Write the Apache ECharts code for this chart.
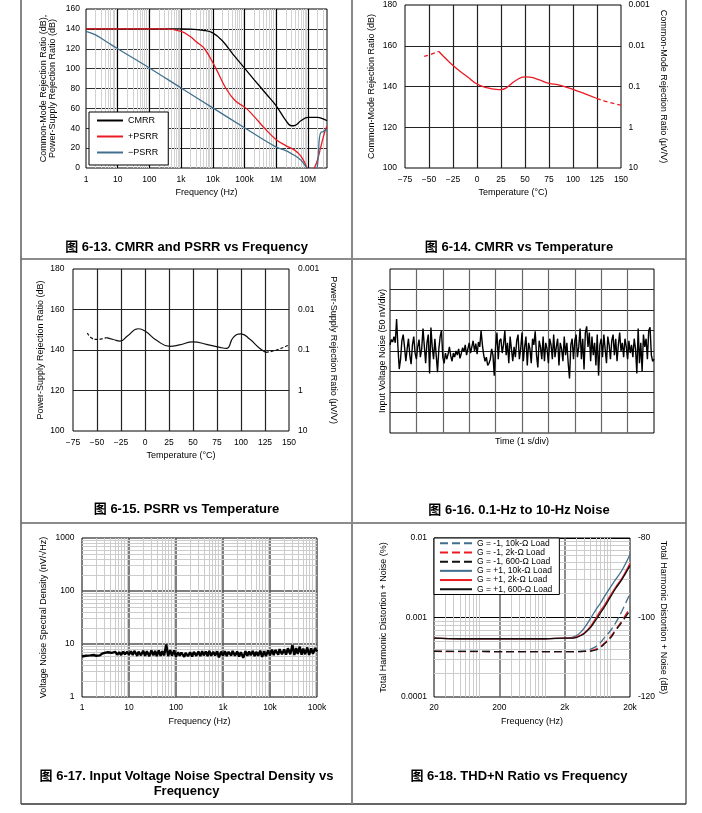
<!DOCTYPE html>
<html><head><meta charset="utf-8">
<script src="https://cdn.jsdelivr.net/npm/echarts@6/dist/echarts.min.js"></script>
<style>html,body{margin:0;padding:0;background:#fff}#c{width:702px;height:813px}</style>
</head><body><div id="c"></div>
<script>
// ---------------- DATA ----------------
// Fig 6-13 CMRR / PSRR vs frequency
const cmrrFreq = [1, 100, 1000, 2000, 5000, 1e4, 2e4, 5e4, 1e5, 2e5, 5e5, 1e6, 2e6, 3e6, 4e6, 6e6, 1e7, 2e7, 3e7, 4e7];
const cmrrDb   = [140, 140, 140, 139.8, 138.5, 136, 128, 112, 100.5, 89, 74, 62.5, 48, 42.5, 43, 47.5, 51, 51, 49.5, 47.5];
const psrrPFreq = [1, 300, 1000, 2000, 3000, 5500, 12600, 26000, 50000, 113000, 200000, 430000, 1e6, 2e6, 4e6, 6e6, 8e6, 1e7, 1.2e7, 1.6e7, 2e7, 2.5e7, 3e7, 3.6e7, 4e7];
const psrrPDb   = [140, 140, 137.5, 132, 127, 120, 100, 80, 68, 60, 52, 40, 28.5, 22.5, 17.5, 12, 5, -2, -6, 0, 8, 20, 30, 39, 42];
const psrrNFreq = [1, 2, 5, 10, 100, 1000, 1e4, 1e5, 1e6, 2e6, 3e6, 5e6, 7e6, 1e7, 1.3e7, 1.8e7, 2.1e7, 2.3e7, 2.6e7, 3e7, 3.5e7, 4e7];
const psrrNDb   = [137.5, 134, 126, 120, 100.7, 80.5, 60.5, 40.5, 21, 17.5, 14.5, 10, 5.5, -2, -8, -4, 10, 30, 36, 36.5, 38, 38];
const freqTickLabels = {1:'1', 10:'10', 100:'100', 1000:'1k', 10000:'10k', 100000:'100k', 1000000:'1M', 10000000:'10M'};

// Fig 6-14 CMRR vs temperature
const cmrrTDash1T = [-55, -48, -40];
const cmrrTDash1V = [154.8, 155.8, 157.3];
const cmrrTSolidT = [-40, -30, -20, -10, 0, 10, 20, 25, 30, 40, 50, 55, 65, 75, 85, 100, 112, 125];
const cmrrTSolidV = [157.3, 152.5, 148.3, 144.8, 141.2, 139.5, 138.6, 138.5, 139.2, 142.8, 144.7, 144.6, 143.2, 141.5, 140.8, 138.6, 136.5, 134.1];
const cmrrTDash2T = [125, 137, 150];
const cmrrTDash2V = [134.1, 132.3, 130.9];

// Fig 6-15 PSRR vs temperature
const psrrTDash1T = [-60, -56, -50, -45, -40];
const psrrTDash1V = [148.4, 146, 145.2, 145.5, 146.1];
const psrrTSolidT = [-40, -33, -26, -18, -7, 0, 12, 26, 36, 50, 64, 78, 85, 92, 100, 109, 119, 126];
const psrrTSolidV = [146.1, 145.2, 144.4, 147, 150.5, 149.4, 144.8, 141.8, 142.5, 144, 142.8, 141.3, 140.8, 146.2, 148, 145.4, 141, 138.8];
const psrrTDash2T = [126, 137, 150];
const psrrTDash2V = [138.8, 140, 142.5];

// Fig 6-16 0.1-Hz to 10-Hz noise (nV), 20 samples per second
const noiseNv = [
 15, 28, 22, 35, 20, 78, 10, -44, -20, 25,
 40, 10, -25, 5, 30, -10, -32, 15, 35, -5,
 -20, 10, 28, -15, 5, 55, 12, -30, 20, 40,
 -55, 57, 10, -20, 30, -10, -52, 5, 35, 50,
 -15, -30, -5, -20, -8, 10, -12, -25, -5, -15,
 0, -10, 5, -18, -6, 8, -2, 15, -10, 5,
 20, -5, 10, 25, 0, 18, -8, 22, 10, 50,
 15, -10, -25, -15, -35, -30, -20, 5, -10, -60,
 10, 45, -20, 25, 30, -5, 15, 50, -10, 20,
 -30, 35, 5, -25, 10, -15, 25, 40, -20, 5,
 45, -25, 10, 35, -35, 20, 5, -30, 30, 15,
 48, -10, -40, 25, 10, -20, 35, -25, 20, 5,
 -30, 30, 15, -20, 40, -15, 10, 30, -35, 20,
 5, -25, 35, -10, 20, -30, -67, 15, 30, -20,
 25, 40, -15, 10, 55, -20, 30, -45, 45, 60,
 10, 45, -25, 35, -10, 20, -35, 40, -60, 15,
 30, -15, 40, 5, -30, 35, 15, -20, 25, 40,
 -10, 30, -25, 15, 45, 0, 20, -15, 30, 10,
 -20, 25, -5, 15, -15, 30, 5, -55, 55, -30,
 20, -50, 40, 10, 30, -20, 50, 58, -10, -25,
 -20
];

// Fig 6-17 voltage noise spectral density
const vnFreq = [1,1.1,1.2,1.3,1.5,1.6,1.8,2,2.2,2.4,2.7,3,3.3,3.6,3.9,4.3,4.7,5.1,5.6,6.2,6.8,7.5,8.2,9.1,
 10,11,12,13,15,16,18,20,22,24,27,30,33,36,39,43,47,51,56,62,68,75,82,91,
 100,110,120,130,150,160,180,200,220,240,270,300,330,360,390,430,470,510,560,620,680,750,820,910,
 1000,1100,1200,1300,1500,1600,1800,2000,2200,2400,2700,3000,3300,3600,3900,4300,4700,5100,5600,6200,6800,7500,8200,9100,
 10000,11000,12000,13000,15000,16000,18000,20000,22000,24000,27000,30000,33000,36000,39000,43000,47000,51000,56000,62000,68000,75000,82000,91000,100000];
const vnDensity = [5.8,5.9,6.0,6.0,6.1,6.1,6.2,6.0,6.4,6.1,6.6,6.8,7.1,7.0,7.3,6.8,6.5,7.1,6.3,7.0,6.2,7.2,6.4,7.1,
 6.3,7.3,6.2,7.4,6.0,7.2,6.1,7.5,6.0,7.3,5.9,7.6,6.1,7.4,5.9,7.6,6.0,7.3,6.1,9.8,5.9,7.7,6.0,7.6,
 5.8,7.0,6.0,6.9,5.7,6.8,5.9,7.0,5.8,7.1,6.0,7.2,5.9,7.3,6.1,7.2,5.9,7.4,6.0,7.1,6.1,7.3,5.6,7.2,
 6.0,7.3,5.9,7.1,6.1,7.4,6.0,7.2,5.8,7.0,5.5,7.3,6.0,7.2,6.1,7.4,5.9,7.1,6.0,7.5,5.7,7.3,5.9,7.6,
 6.1,7.8,6.2,7.7,6.3,8.0,6.4,7.9,6.3,8.3,6.4,9.6,6.2,8.4,6.5,8.9,6.3,8.2,6.4,8.6,6.2,8.3,6.5,8.4,
 7.2];
const vnTickLabels = {1:'1', 10:'10', 100:'100', 1000:'1k', 10000:'10k', 100000:'100k'};

// Fig 6-18 THD+N vs frequency (%)
const thdFreq = [20, 50, 100, 200, 500, 1000, 2000, 2500, 3000, 3500, 4000, 5000, 6000, 7000, 8000, 10000, 12000, 15000, 20000];
const thdNeg10k  = [0.000375,0.000374,0.000374,0.000373,0.000373,0.000373,0.000373,0.000373,0.000374,0.000377,0.00038,0.0004,0.00043,0.00048,0.00055,0.00068,0.00085,0.0012,0.002];
const thdNeg2k   = [0.000374,0.000373,0.000373,0.000372,0.000372,0.000372,0.000372,0.000372,0.000372,0.000373,0.000375,0.00038,0.0004,0.00043,0.00047,0.00057,0.0007,0.00091,0.00132];
const thdNeg600  = [0.000376,0.000375,0.000374,0.000373,0.000373,0.000373,0.000373,0.000373,0.000373,0.000373,0.000374,0.000378,0.00039,0.00042,0.00046,0.00055,0.00068,0.00087,0.00123];
const thdPos10k  = [0.00055,0.00054,0.00054,0.00054,0.00054,0.00054,0.00055,0.00056,0.00059,0.00065,0.00074,0.00098,0.00125,0.0015,0.0018,0.0024,0.003,0.0039,0.0062];
const thdPos2k   = [0.00055,0.00054,0.00054,0.00054,0.00054,0.00054,0.00055,0.00055,0.00057,0.0006,0.00064,0.00078,0.00098,0.0012,0.0014,0.0019,0.0024,0.0031,0.0048];
const thdPos600  = [0.00055,0.00054,0.00054,0.00054,0.00054,0.00054,0.00055,0.00055,0.00056,0.00059,0.00063,0.00075,0.00093,0.00113,0.00133,0.0018,0.0023,0.003,0.0045];
const thdTickLabels = ['20', '200', '2k', '20k'];
const thdNames = ['G = -1, 10k-\u03A9 Load','G = -1, 2k-\u03A9 Load','G = -1, 600-\u03A9 Load','G = +1, 10k-\u03A9 Load','G = +1, 2k-\u03A9 Load','G = +1, 600-\u03A9 Load'];

// ---------------- HELPERS ----------------
const FONT = "'Liberation Sans', Arial, 'Noto Sans CJK SC', sans-serif";
const BLUE = '#41708f', RED = '#ea1b22', BLACK = '#111';
function pairs(xs, ys) { return xs.map((x, i) => [x, ys[i]]); }
function gridMarks(mants, decades, key) {
  const out = [];
  decades.forEach(d => mants.forEach(m => { const o = {}; o[key] = m * d; out.push(o); }));
  return out;
}
const M29 = [2,3,4,5,6,7,8,9];
const tempFmt = v => v < 0 ? '\u2212' + Math.abs(v) : String(v);
const logFmt = v => String(Number(Number(v).toPrecision(1)));
const lbl = (extra) => Object.assign({fontSize: 8.5, color: '#000', fontFamily: FONT}, extra || {});
const nameStyle = (extra) => Object.assign({fontSize: 9, color: '#000', fontFamily: FONT}, extra || {});
const noLine = {show: false};
const noTick = {show: false};
function split(color, width) { return {show: true, showMinLine: false, showMaxLine: false, lineStyle: {color: color, width: width, type: 'solid'}}; }
function gridBox(left, top, width, height) {
  return {left, top, width, height, show: true, borderColor: '#000', borderWidth: 1, backgroundColor: 'transparent', containLabel: false, outerBoundsMode: 'none'};
}
function dummy(xi, yi, marks, color, width) {
  return {type: 'line', name: '_grid' + xi + '_' + yi, data: [], xAxisIndex: xi, yAxisIndex: yi, z: 1, silent: true,
    markLine: {silent: true, z: 1, precision: 12, symbol: ['none', 'none'], label: {show: false}, animation: false,
      lineStyle: {color: color, width: width, type: 'solid'}, emphasis: {disabled: true}, data: marks}};
}
function line(name, xi, yi, data, color, width, dash, smooth) {
  return {type: 'line', name, xAxisIndex: xi, yAxisIndex: yi, data, symbol: 'none', showSymbol: false,
    smooth: smooth === undefined ? 0.4 : smooth,
    lineStyle: {color, width, type: dash || 'solid'}, itemStyle: {color, opacity: 0}, z: 6, silent: true};
}
const legendCommon = {orient: 'vertical', backgroundColor: '#fff', borderColor: '#000', borderWidth: 1, borderRadius: 0,
  selectedMode: false, z: 10, itemStyle: {opacity: 0, borderWidth: 0}};

// ---------------- OPTION ----------------
const option = {
  animation: false,
  backgroundColor: '#fff',
  textStyle: {fontFamily: FONT},
  grid: [
    gridBox(86, 9, 241, 159),
    gridBox(405, 5, 216, 163),
    gridBox(73, 269, 216, 162),
    gridBox(390, 269, 264, 164),
    gridBox(82, 538, 235, 159),
    gridBox(434, 538, 196, 159)
  ],
  xAxis: [
    {gridIndex: 0, type: 'log', logBase: 10, min: 1, max: 4e7, splitNumber: 10, axisLine: noLine, axisTick: noTick,
     axisLabel: lbl({margin: 7.5, formatter: v => freqTickLabels[Math.round(v)] || ''}),
     splitLine: split('#000', 1.2), name: 'Frequency (Hz)', nameLocation: 'middle', nameGap: 20.5, nameTextStyle: nameStyle()},
    {gridIndex: 1, type: 'value', min: -75, max: 150, interval: 25, axisLine: noLine, axisTick: noTick,
     axisLabel: lbl({margin: 7.5, formatter: tempFmt}), splitLine: split('#222', 1.2),
     name: 'Temperature (\u00B0C)', nameLocation: 'middle', nameGap: 20.5, nameTextStyle: nameStyle()},
    {gridIndex: 2, type: 'value', min: -75, max: 150, interval: 25, axisLine: noLine, axisTick: noTick,
     axisLabel: lbl({margin: 7, formatter: tempFmt}), splitLine: split('#222', 1.2),
     name: 'Temperature (\u00B0C)', nameLocation: 'middle', nameGap: 20.5, nameTextStyle: nameStyle()},
    {gridIndex: 3, type: 'value', min: 0, max: 200, interval: 20, axisLine: noLine, axisTick: noTick,
     axisLabel: {show: false}, splitLine: split('#666', 1.2),
     name: 'Time (1 s/div)', nameLocation: 'middle', nameGap: 4, nameTextStyle: nameStyle()},
    {gridIndex: 4, type: 'log', logBase: 10, min: 1, max: 100000, splitNumber: 10, axisLine: noLine, axisTick: noTick,
     axisLabel: lbl({margin: 6.5, formatter: v => vnTickLabels[Math.round(v)] || ''}),
     splitLine: split('#555', 1.5), name: 'Frequency (Hz)', nameLocation: 'middle', nameGap: 20.5, nameTextStyle: nameStyle()},
    {gridIndex: 5, type: 'log', logBase: 10, min: 20, max: 20000, show: false, splitLine: {show: false}},
    {gridIndex: 5, type: 'value', position: 'bottom', min: 0, max: 3, interval: 1, axisLine: noLine, axisTick: noTick,
     axisLabel: lbl({margin: 6.5, formatter: v => thdTickLabels[Math.round(v)]}),
     splitLine: split('#666', 1.5), name: 'Frequency (Hz)', nameLocation: 'middle', nameGap: 20.5, nameTextStyle: nameStyle()}
  ],
  yAxis: [
    {gridIndex: 0, type: 'value', min: 0, max: 160, interval: 20, axisLine: noLine, axisTick: noTick,
     axisLabel: lbl({margin: 6}), splitLine: split('#333', 1.2),
     name: 'Common-Mode Rejection Ratio (dB),\nPower-Supply Rejection Ratio (dB)', nameLocation: 'middle', nameGap: 28.5,
     nameTextStyle: nameStyle({lineHeight: 9.5})},
    {gridIndex: 1, type: 'value', min: 100, max: 180, interval: 20, axisLine: noLine, axisTick: noTick,
     axisLabel: lbl({margin: 8}), splitLine: split('#222', 1.2),
     name: 'Common-Mode Rejection Ratio (dB)', nameLocation: 'middle', nameGap: 28.5, nameTextStyle: nameStyle()},
    {gridIndex: 1, type: 'log', logBase: 10, min: 0.001, max: 10, inverse: true, position: 'right', splitNumber: 10,
     axisLine: noLine, axisTick: noTick, axisLabel: lbl({margin: 7.5, formatter: logFmt}), splitLine: {show: false},
     name: 'Common-Mode Rejection Ratio (\u03BCV/V)', nameLocation: 'middle', nameRotate: -90, nameGap: 38, nameTextStyle: nameStyle()},
    {gridIndex: 2, type: 'value', min: 100, max: 180, interval: 20, axisLine: noLine, axisTick: noTick,
     axisLabel: lbl({margin: 8.5}), splitLine: split('#222', 1.2),
     name: 'Power-Supply Rejection Ratio (dB)', nameLocation: 'middle', nameGap: 28, nameTextStyle: nameStyle()},
    {gridIndex: 2, type: 'log', logBase: 10, min: 0.001, max: 10, inverse: true, position: 'right', splitNumber: 10,
     axisLine: noLine, axisTick: noTick, axisLabel: lbl({margin: 9, formatter: logFmt}), splitLine: {show: false},
     name: 'Power-Supply Rejection Ratio (\u03BCV/V)', nameLocation: 'middle', nameRotate: -90, nameGap: 40, nameTextStyle: nameStyle()},
    {gridIndex: 3, type: 'value', min: -200, max: 200, interval: 50, axisLine: noLine, axisTick: noTick,
     axisLabel: {show: false}, splitLine: split('#222', 1),
     name: 'Input Voltage Noise (50 nV/div)', nameLocation: 'middle', nameGap: 3, nameTextStyle: nameStyle()},
    {gridIndex: 4, type: 'log', logBase: 10, min: 1, max: 1000, splitNumber: 10, axisLine: noLine, axisTick: noTick,
     axisLabel: lbl({margin: 7.5, formatter: logFmt}), splitLine: split('#555', 1.5),
     name: 'Voltage Noise Spectral Density (nV/\u221AHz)', nameLocation: 'middle', nameGap: 33.5, nameTextStyle: nameStyle()},
    {gridIndex: 5, type: 'log', logBase: 10, min: 0.0001, max: 0.01, splitNumber: 10, axisLine: noLine, axisTick: noTick,
     axisLabel: lbl({margin: 7, formatter: logFmt}), splitLine: split('#000', 1),
     name: 'Total Harmonic Distortion + Noise (%)', nameLocation: 'middle', nameGap: 45.5, nameTextStyle: nameStyle()},
    {gridIndex: 5, type: 'value', min: -120, max: -80, interval: 20, position: 'right', axisLine: noLine, axisTick: noTick,
     axisLabel: lbl({margin: 8}), splitLine: {show: false},
     name: 'Total Harmonic Distortion + Noise (dB)', nameLocation: 'middle', nameRotate: -90, nameGap: 29, nameTextStyle: nameStyle()}
  ],
  legend: [
    Object.assign({}, legendCommon, {data: ['CMRR', '+PSRR', '\u2212PSRR'], left: 89, top: 112, itemWidth: 26, itemHeight: 10, itemGap: 7,
     padding: [4, 10, 8, 7], textStyle: {fontSize: 9, color: '#000', fontFamily: FONT}}),
    Object.assign({}, legendCommon, {data: thdNames, left: 434, top: 538, itemWidth: 32, itemHeight: 8.5, itemGap: 0.7,
     padding: [1, 7, 1, 5], textStyle: {fontSize: 8.5, color: '#000', fontFamily: FONT}})
  ],
  series: [
    dummy(0, 0, gridMarks(M29, [1, 10, 100, 1e3, 1e4, 1e5, 1e6], 'xAxis').concat([{xAxis: 2e7}, {xAxis: 3e7}]), '#d2d2d2', 1),
    line('CMRR', 0, 0, pairs(cmrrFreq, cmrrDb), '#000', 1.3),
    line('+PSRR', 0, 0, pairs(psrrPFreq, psrrPDb), RED, 1.3),
    line('\u2212PSRR', 0, 0, pairs(psrrNFreq, psrrNDb), BLUE, 1.3),

    line('cmrrT_a', 1, 1, pairs(cmrrTDash1T, cmrrTDash1V), RED, 1.3, [4, 3], 0.5),
    line('cmrrT_b', 1, 1, pairs(cmrrTSolidT, cmrrTSolidV), RED, 1.3, 'solid', 0.5),
    line('cmrrT_c', 1, 1, pairs(cmrrTDash2T, cmrrTDash2V), RED, 1.3, [4, 3], 0.5),

    line('psrrT_a', 2, 3, pairs(psrrTDash1T, psrrTDash1V), BLACK, 1.2, [3, 2], 0.5),
    line('psrrT_b', 2, 3, pairs(psrrTSolidT, psrrTSolidV), BLACK, 1.2, 'solid', 0.5),
    line('psrrT_c', 2, 3, pairs(psrrTDash2T, psrrTDash2V), BLACK, 1.2, [3, 2], 0.5),

    line('noise', 3, 5, noiseNv.map((v, i) => [i, v]), '#000', 1.4, 'solid', false),

    dummy(4, 6, gridMarks(M29, [1, 10, 100, 1e3, 1e4], 'xAxis').concat(gridMarks(M29, [1, 10, 100], 'yAxis')), '#cccccc', 1),
    line('vn', 4, 6, pairs(vnFreq, vnDensity), '#000', 2.4, 'solid', false),

    dummy(5, 7, gridMarks([3,4,5,6,7,8,9,10], [10, 100, 1000], 'xAxis').concat(gridMarks(M29, [1e-4, 1e-3], 'yAxis')), '#cccccc', 1),
    line(thdNames[0], 5, 7, pairs(thdFreq, thdNeg10k), BLUE, 1.3, [8, 4]),
    line(thdNames[1], 5, 7, pairs(thdFreq, thdNeg2k), RED, 1.3, [8, 4]),
    line(thdNames[2], 5, 7, pairs(thdFreq, thdNeg600), BLACK, 1.3, [8, 4]),
    line(thdNames[3], 5, 7, pairs(thdFreq, thdPos10k), BLUE, 1.3),
    line(thdNames[4], 5, 7, pairs(thdFreq, thdPos2k), RED, 1.3),
    line(thdNames[5], 5, 7, pairs(thdFreq, thdPos600), BLACK, 1.3)
  ],
  graphic: [
    {type: 'line', silent: true, z: 100, shape: {x1: 21, y1: -2, x2: 21, y2: 804}, style: {stroke: '#444', lineWidth: 1.3}},
    {type: 'line', silent: true, z: 100, shape: {x1: 686, y1: -2, x2: 686, y2: 804}, style: {stroke: '#444', lineWidth: 1.3}},
    {type: 'line', silent: true, z: 100, shape: {x1: 21, y1: 804, x2: 686, y2: 804}, style: {stroke: '#333', lineWidth: 1.3}},
    {type: 'line', silent: true, z: 100, shape: {x1: 21, y1: 259, x2: 686, y2: 259}, style: {stroke: '#666', lineWidth: 1.3}},
    {type: 'line', silent: true, z: 100, shape: {x1: 21, y1: 523, x2: 686, y2: 523}, style: {stroke: '#666', lineWidth: 1.3}},
    {type: 'line', silent: true, z: 100, shape: {x1: 352, y1: -2, x2: 352, y2: 804}, style: {stroke: '#888', lineWidth: 2}},
    {type: 'text', silent: true, x: 186.5, y: 247, style: {text: '\u56FE 6-13. CMRR and PSRR vs Frequency', font: 'bold 13px ' + FONT, fill: '#000', align: 'center', verticalAlign: 'middle'}},
    {type: 'text', silent: true, x: 519, y: 247, style: {text: '\u56FE 6-14. CMRR vs Temperature', font: 'bold 13px ' + FONT, fill: '#000', align: 'center', verticalAlign: 'middle'}},
    {type: 'text', silent: true, x: 186.5, y: 509.5, style: {text: '\u56FE 6-15. PSRR vs Temperature', font: 'bold 13px ' + FONT, fill: '#000', align: 'center', verticalAlign: 'middle'}},
    {type: 'text', silent: true, x: 519, y: 510.5, style: {text: '\u56FE 6-16. 0.1-Hz to 10-Hz Noise', font: 'bold 13px ' + FONT, fill: '#000', align: 'center', verticalAlign: 'middle'}},
    {type: 'text', silent: true, x: 186.5, y: 776, style: {text: '\u56FE 6-17. Input Voltage Noise Spectral Density vs', font: 'bold 13px ' + FONT, fill: '#000', align: 'center', verticalAlign: 'middle'}},
    {type: 'text', silent: true, x: 186.5, y: 791.5, style: {text: 'Frequency', font: 'bold 13px ' + FONT, fill: '#000', align: 'center', verticalAlign: 'middle'}},
    {type: 'text', silent: true, x: 519, y: 776, style: {text: '\u56FE 6-18. THD+N Ratio vs Frequency', font: 'bold 13px ' + FONT, fill: '#000', align: 'center', verticalAlign: 'middle'}}
  ]
};

const chart = echarts.init(document.getElementById('c'), null, {renderer: 'canvas', width: 702, height: 813});
chart.setOption(option);
</script>
</body></html>
